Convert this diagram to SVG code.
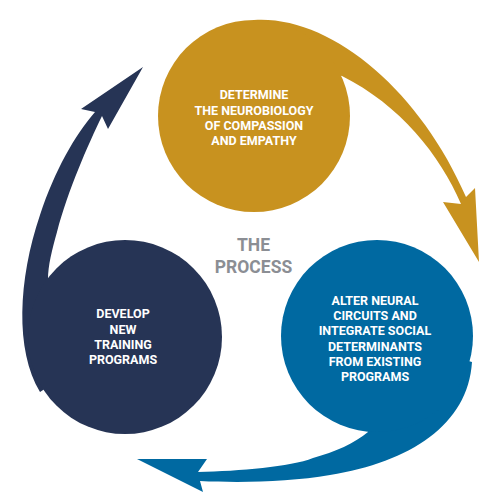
<svg xmlns="http://www.w3.org/2000/svg" width="500" height="499" viewBox="0 0 500 499">
<style>
.lbl{font-family:Roboto,"Liberation Sans",sans-serif;font-weight:700;fill:#ffffff;text-anchor:middle;font-size:12.5px}
.ttl{font-family:Roboto,"Liberation Sans",sans-serif;font-weight:700;fill:#8b8e94;text-anchor:middle;font-size:17.5px}
.gold{fill:#c8921f}
.navy{fill:#263455}
.blue{fill:#0069a1}
</style>
<rect width="500" height="499" fill="#ffffff"/>
<g id="connectors">
<path id="arrow-gold" class="gold" d="M254,60 L254,20 C330,15 420,90 466,197 L475,188 L479,262 L443,202 L461,204 C440,155 400,105 342,76 Z"/>
<path id="arrow-blue" class="blue" d="M377,336 L472,362 C468,425 410,462 330,475 C290,482 240,483 200,481 L203,492 L137,459 L207,459 L198,472 C240,471 290,467 313,458 C335,452 355,443 368,432 Z"/>
<path id="arrow-navy" class="navy" d="M125,337 L40,392 C15,350 18,280 40,215 C55,170 75,135 95,112 L81,109 L143,67 L108,129 L102,116 C88,145 68,190 57,232 C52,250 48,265 48,280 Z"/>
</g>
<g id="node-determine">
<circle class="gold" cx="254" cy="116" r="96"/>
<text class="lbl" x="254" y="99">DETERMINE</text>
<text class="lbl" x="254" y="114.5">THE NEUROBIOLOGY</text>
<text class="lbl" x="254" y="130">OF COMPASSION</text>
<text class="lbl" x="254" y="145">AND EMPATHY</text>
</g>
<g id="node-alter">
<circle class="blue" cx="377" cy="336" r="96"/>
<text class="lbl" x="375" y="305">ALTER NEURAL</text>
<text class="lbl" x="375" y="320">CIRCUITS AND</text>
<text class="lbl" x="375" y="335">INTEGRATE SOCIAL</text>
<text class="lbl" x="375" y="350.5">DETERMINANTS</text>
<text class="lbl" x="375" y="366">FROM EXISTING</text>
<text class="lbl" x="375" y="381">PROGRAMS</text>
</g>
<g id="node-develop">
<circle class="navy" cx="125" cy="337" r="97"/>
<text class="lbl" x="123" y="318">DEVELOP</text>
<text class="lbl" x="123" y="333.5">NEW</text>
<text class="lbl" x="123" y="349">TRAINING</text>
<text class="lbl" x="123" y="364">PROGRAMS</text>
</g>
<g id="title">
<text class="ttl" x="253.5" y="250.5">THE</text>
<text class="ttl" x="253.5" y="273">PROCESS</text>
</g>
</svg>
